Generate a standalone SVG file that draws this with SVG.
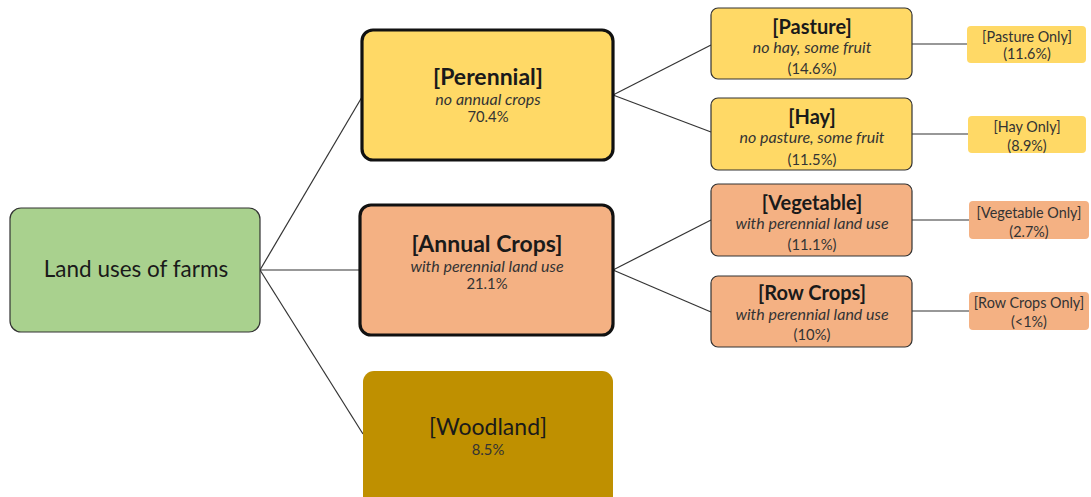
<svg xmlns="http://www.w3.org/2000/svg" width="1091" height="497" viewBox="0 0 1091 497">
<style>
text{font-family:Lato,"Open Sans","Liberation Sans",sans-serif;fill:#1a1a1a;text-anchor:middle}
.t{font-weight:bold;font-size:20px}
.T{font-weight:bold;font-size:23px}
.it{font-style:italic;font-size:16px;fill:#333}
.p{font-size:14.8px;fill:#333}
.s{font-size:14.4px;fill:#333}
.conn line{stroke:#333;stroke-width:1.2}
.yel{fill:#FFD966}.org{fill:#F4B183}
.thin{stroke:#333;stroke-width:1.2}
.thick{stroke:#111;stroke-width:3.2}
</style>
<g class="conn" id="connectors">
<line x1="260" y1="270" x2="362" y2="97"/>
<line x1="260" y1="270" x2="360" y2="270"/>
<line x1="260" y1="270" x2="363" y2="434"/>
<line x1="613" y1="95" x2="711" y2="45"/>
<line x1="613" y1="95" x2="711" y2="132"/>
<line x1="613" y1="270" x2="711" y2="220"/>
<line x1="613" y1="270" x2="711" y2="312"/>
<line x1="912" y1="44" x2="967" y2="44"/>
<line x1="912" y1="134" x2="968" y2="134"/>
<line x1="912" y1="220" x2="969" y2="220"/>
<line x1="912" y1="311" x2="969" y2="311"/>
</g>
<g id="root">
<rect x="10" y="208" width="250" height="124" rx="11" fill="#A9D18E" class="thin"/>
<text x="136" y="277" style="font-size:22.5px">Land uses of farms</text>
</g>
<g id="perennial">
<rect x="362" y="30" width="251" height="130" rx="11" class="yel thick"/>
<text class="T" x="488" y="85">[Perennial]</text>
<text class="it" x="488" y="105">no annual crops</text>
<text class="p" x="488" y="122">70.4%</text>
</g>
<g id="annual">
<rect x="360" y="205" width="253" height="130" rx="11" class="org thick"/>
<text class="T" x="487" y="252">[Annual Crops]</text>
<text class="it" x="487" y="272">with perennial land use</text>
<text class="p" x="487" y="289">21.1%</text>
</g>
<g id="woodland">
<rect x="363" y="371" width="250" height="140" rx="11" fill="#BF9000"/>
<text x="488" y="435" style="font-size:23px">[Woodland]</text>
<text class="p" x="488" y="455">8.5%</text>
</g>
<g id="pasture">
<rect x="711" y="8" width="201" height="71" rx="7" class="yel thin"/>
<text class="t" x="812" y="34">[Pasture]</text>
<text class="it" x="812" y="53">no hay, some fruit</text>
<text class="p" x="812" y="74">(14.6%)</text>
</g>
<g id="hay">
<rect x="711" y="98" width="201" height="72" rx="7" class="yel thin"/>
<text class="t" x="812" y="124">[Hay]</text>
<text class="it" x="812" y="143">no pasture, some fruit</text>
<text class="p" x="812" y="165">(11.5%)</text>
</g>
<g id="vegetable">
<rect x="711" y="184" width="201" height="72" rx="7" class="org thin"/>
<text class="t" x="812" y="210">[Vegetable]</text>
<text class="it" x="812" y="229">with perennial land use</text>
<text class="p" x="812" y="250">(11.1%)</text>
</g>
<g id="rowcrops">
<rect x="711" y="276" width="201" height="71" rx="7" class="org thin"/>
<text class="t" x="812" y="300">[Row Crops]</text>
<text class="it" x="812" y="320">with perennial land use</text>
<text class="p" x="812" y="340">(10%)</text>
</g>
<g id="pastureonly">
<rect x="967" y="26" width="119" height="37" rx="4" class="yel"/>
<text class="s" x="1027" y="42">[Pasture Only]</text>
<text class="s" x="1027" y="59">(11.6%)</text>
</g>
<g id="hayonly">
<rect x="968" y="116" width="118" height="37" rx="4" class="yel"/>
<text class="s" x="1027" y="132">[Hay Only]</text>
<text class="s" x="1027" y="151">(8.9%)</text>
</g>
<g id="vegonly">
<rect x="969" y="201" width="120" height="38" rx="4" class="org"/>
<text class="s" x="1029" y="218">[Vegetable Only]</text>
<text class="s" x="1029" y="237">(2.7%)</text>
</g>
<g id="rowonly">
<rect x="969" y="292" width="120" height="38" rx="4" class="org"/>
<text class="s" x="1029" y="308">[Row Crops Only]</text>
<text class="s" x="1029" y="327">(&lt;1%)</text>
</g>
</svg>
